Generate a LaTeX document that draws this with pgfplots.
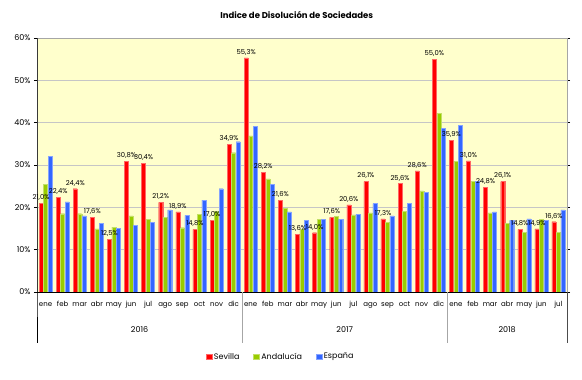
\documentclass[border=0pt]{standalone}
\usepackage{pgfplots}
\pgfplotsset{compat=1.18}
\usepackage{pgfplotstable}
\usepackage{fontspec}
\setmainfont{Poppins}
\definecolor{sev}{HTML}{FF0000}
\definecolor{anda}{HTML}{99CC00}
\definecolor{esp}{HTML}{3366FF}
\definecolor{plotbg}{HTML}{FFFFCC}
\pgfplotstableread{
idx sev anda esp
0 21.0 25.4 32.0
1 22.4 18.5 21.3
2 24.4 18.5 18.0
3 17.6 14.9 16.2
4 12.5 15.3 15.0
5 30.8 18.0 15.7
6 30.4 17.2 16.4
7 21.2 17.6 19.4
8 18.9 15.2 18.1
9 14.8 18.3 21.7
10 17.0 19.0 24.4
11 34.9 32.9 35.5
12 55.3 36.9 39.1
13 28.2 26.7 25.5
14 21.6 19.8 18.9
15 13.6 14.8 16.9
16 14.0 17.2 17.2
17 17.6 17.9 17.2
18 20.6 18.2 18.4
19 26.1 18.7 20.9
20 17.3 16.4 18.0
21 25.6 19.1 20.9
22 28.6 23.9 23.5
23 55.0 42.2 38.7
24 35.9 30.9 39.4
25 31.0 26.1 26.1
26 24.8 18.7 18.9
27 26.1 16.2 16.9
28 14.8 14.1 17.3
29 14.9 17.2 16.9
30 16.6 14.1 19.4
}\datatab
\begin{document}
\begin{tikzpicture}
\useasboundingbox (-37pt,-88pt) rectangle (545pt,292pt);
\begin{axis}[
 at={(0,0)}, anchor=south west,
 scale only axis, width=530pt, height=254pt,
 ybar=0.5pt, bar width=4pt,
 xmin=-0.5, xmax=30.5, ymin=0, ymax=60,
 clip=false,
 axis background/.style={fill=plotbg},
 axis line style={draw=gray!70, line width=0.8pt},
 ymajorgrids, grid style={gray!45, line width=0.7pt},
 ytick={0,10,...,60},
 yticklabel={\pgfmathprintnumber{\tick}\%},
 /pgf/number format/assume math mode=true,
 yticklabel style={font=\fontsize{8}{9}\selectfont},
 ytick style={draw=black, line width=0.6pt},
 tick align=outside, major tick length=3pt,
 xtick={0,...,30},
 xticklabels={ene,feb,mar,abr,may,jun,jul,ago,sep,oct,nov,dic,ene,feb,mar,abr,may,jun,jul,ago,sep,oct,nov,dic,ene,feb,mar,abr,may,jun,jul},
 xticklabel style={font=\fontsize{7}{8}\selectfont, inner xsep=0pt, text height=5.5pt, text depth=1.5pt, anchor=north, yshift=-2pt},
 xtick style={draw=none},
 legend columns=3,
 legend style={at={(0.46,-0.255)}, anchor=center, draw=none, fill=none,
   font=\fontsize{8}{9}\selectfont,
   /tikz/every even column/.append style={column sep=12pt}},
 legend image code/.code={\fill[#1] (0pt,-2.8pt) rectangle (5.6pt,2.8pt);},
]
\addplot[fill=sev, draw=sev!60!white, line width=0.3pt,
  nodes near coords={\pgfmathprintnumber[fixed,fixed zerofill,precision=1,use comma]{\pgfplotspointmeta}\%},
  every node near coord/.append style={font=\fontsize{6.8}{7}\selectfont, text=black, inner sep=1.5pt, yshift=1pt}]
  table[x=idx,y=sev]{\datatab};
\addplot[fill=anda, draw=anda!60!white, line width=0.3pt] table[x=idx,y=anda]{\datatab};
\addplot[fill=esp, draw=esp!60!white, line width=0.3pt] table[x=idx,y=esp]{\datatab};
\legend{Sevilla,Andaluc\'ia,Espa\~na}
\draw[black, line width=0.8pt] (rel axis cs:0,1) -- (rel axis cs:0,0) -- ++(0pt,-51pt);
\draw[black, line width=0.8pt] (rel axis cs:0,0) -- (rel axis cs:1,0);
\draw[gray!70, line width=1pt] (axis cs:11.5,0) -- ++(0pt,-51pt);
\draw[gray!70, line width=1pt] (axis cs:23.5,0) -- ++(0pt,-51pt);
\draw[black!70, line width=0.8pt] (rel axis cs:1,0) -- ++(0pt,-51pt);
\node[font=\fontsize{8}{9}\selectfont] at (axis cs:5.5,0) [yshift=-38pt] {2016};
\node[font=\fontsize{8}{9}\selectfont] at (axis cs:17.5,0) [yshift=-38pt] {2017};
\node[font=\fontsize{8}{9}\selectfont] at (axis cs:27,0) [yshift=-38pt] {2018};
\node[font=\bfseries\fontsize{8.5}{9}\selectfont] at (rel axis cs:0.49,1) [yshift=23pt] {Indice de Disolución de Sociedades};
\end{axis}
\end{tikzpicture}
\end{document}
